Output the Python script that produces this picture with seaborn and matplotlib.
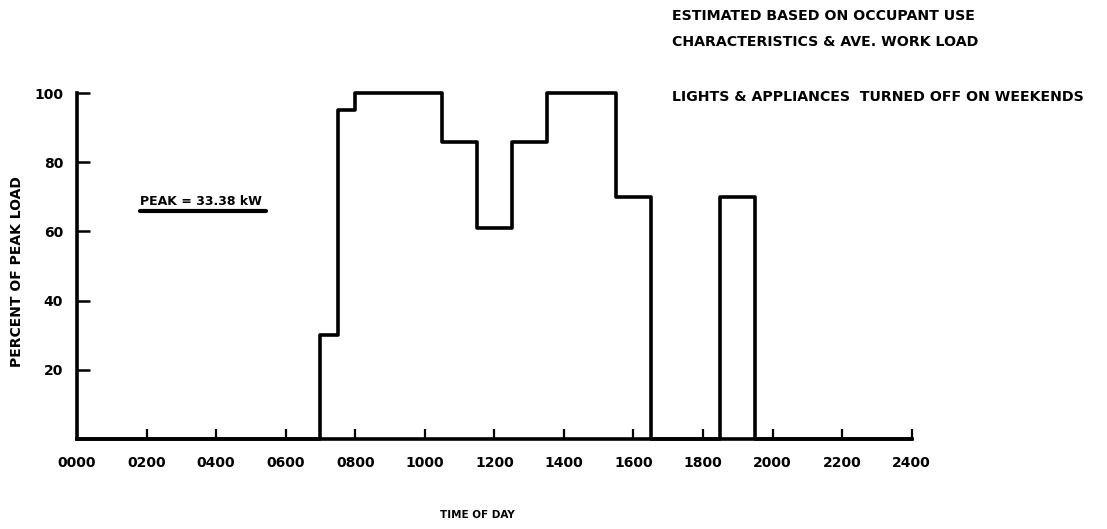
import matplotlib
matplotlib.use("Agg")
import matplotlib.pyplot as plt
import seaborn as sns
import pandas as pd

# load profile (hours, percent of peak)
hours = [0, 7, 7.5, 8, 10.5, 11.5, 12.5, 13.5, 15.5, 16.5, 18.5, 19.5, 24]
percent = [0, 30, 95, 100, 86, 61, 86, 100, 70, 0, 70, 0, 0]
x_ticks = [0, 2, 4, 6, 8, 10, 12, 14, 16, 18, 20, 22, 24]
x_labels = ["0000", "0200", "0400", "0600", "0800", "1000", "1200",
            "1400", "1600", "1800", "2000", "2200", "2400"]
y_ticks = [20, 40, 60, 80, 100]

df = pd.DataFrame({"hour": hours, "pct": percent})

sns.set_style("white")
plt.rcParams['font.family'] = ['DejaVu Sans']
plt.rcParams['font.weight'] = 'bold'
plt.rcParams['text.color'] = 'black'
plt.rcParams['axes.labelcolor'] = 'black'
plt.rcParams['xtick.color'] = 'black'
plt.rcParams['ytick.color'] = 'black'

fig = plt.figure(figsize=(11.07, 5.29), dpi=100)
ax = fig.add_axes([0.0696, 0.170, 0.754, 0.654])

sns.lineplot(data=df, x="hour", y="pct", drawstyle="steps-post",
             color="black", linewidth=2.6, ax=ax, clip_on=False)

ax.set_xlim(0, 24)
ax.set_ylim(0, 100)
ax.set_xticks(x_ticks)
ax.set_xticklabels(x_labels, fontsize=10, fontweight="bold")
ax.set_yticks(y_ticks)
ax.set_yticklabels([str(v) for v in y_ticks], fontsize=10, fontweight="bold")
ax.tick_params(axis="x", bottom=True, direction="in", length=7, width=1.6, pad=12)
ax.tick_params(axis="y", left=True, direction="in", length=9, width=1.8, pad=10)

sns.despine(ax=ax)
for s in ("left", "bottom"):
    ax.spines[s].set_linewidth(2.6)
    ax.spines[s].set_color("black")

ax.set_xlabel("")
ax.set_ylabel("PERCENT OF PEAK LOAD", fontsize=10, fontweight="bold")
ax.yaxis.set_label_coords(-0.064, 0.483)
fig.text(0.431, 0.02, "TIME OF DAY", fontsize=7.5, fontweight="bold", ha="center")

ax.text(0.076, 0.668, "PEAK = 33.38 kW", transform=ax.transAxes,
        fontsize=9, fontweight="bold", ha="left", va="bottom")
ax.plot([0.076, 0.226], [0.659, 0.659], transform=ax.transAxes,
        color="black", linewidth=3, clip_on=False)

fig.text(0.607, 1 - 16 / 529, "ESTIMATED BASED ON OCCUPANT USE",
         fontsize=10.2, fontweight="bold", ha="left", va="center")
fig.text(0.607, 1 - 42 / 529, "CHARACTERISTICS & AVE. WORK LOAD",
         fontsize=10.2, fontweight="bold", ha="left", va="center")
fig.text(0.607, 1 - 97 / 529, "LIGHTS & APPLIANCES  TURNED OFF ON WEEKENDS",
         fontsize=10.2, fontweight="bold", ha="left", va="center")

fig.savefig("out.png", dpi=100)
